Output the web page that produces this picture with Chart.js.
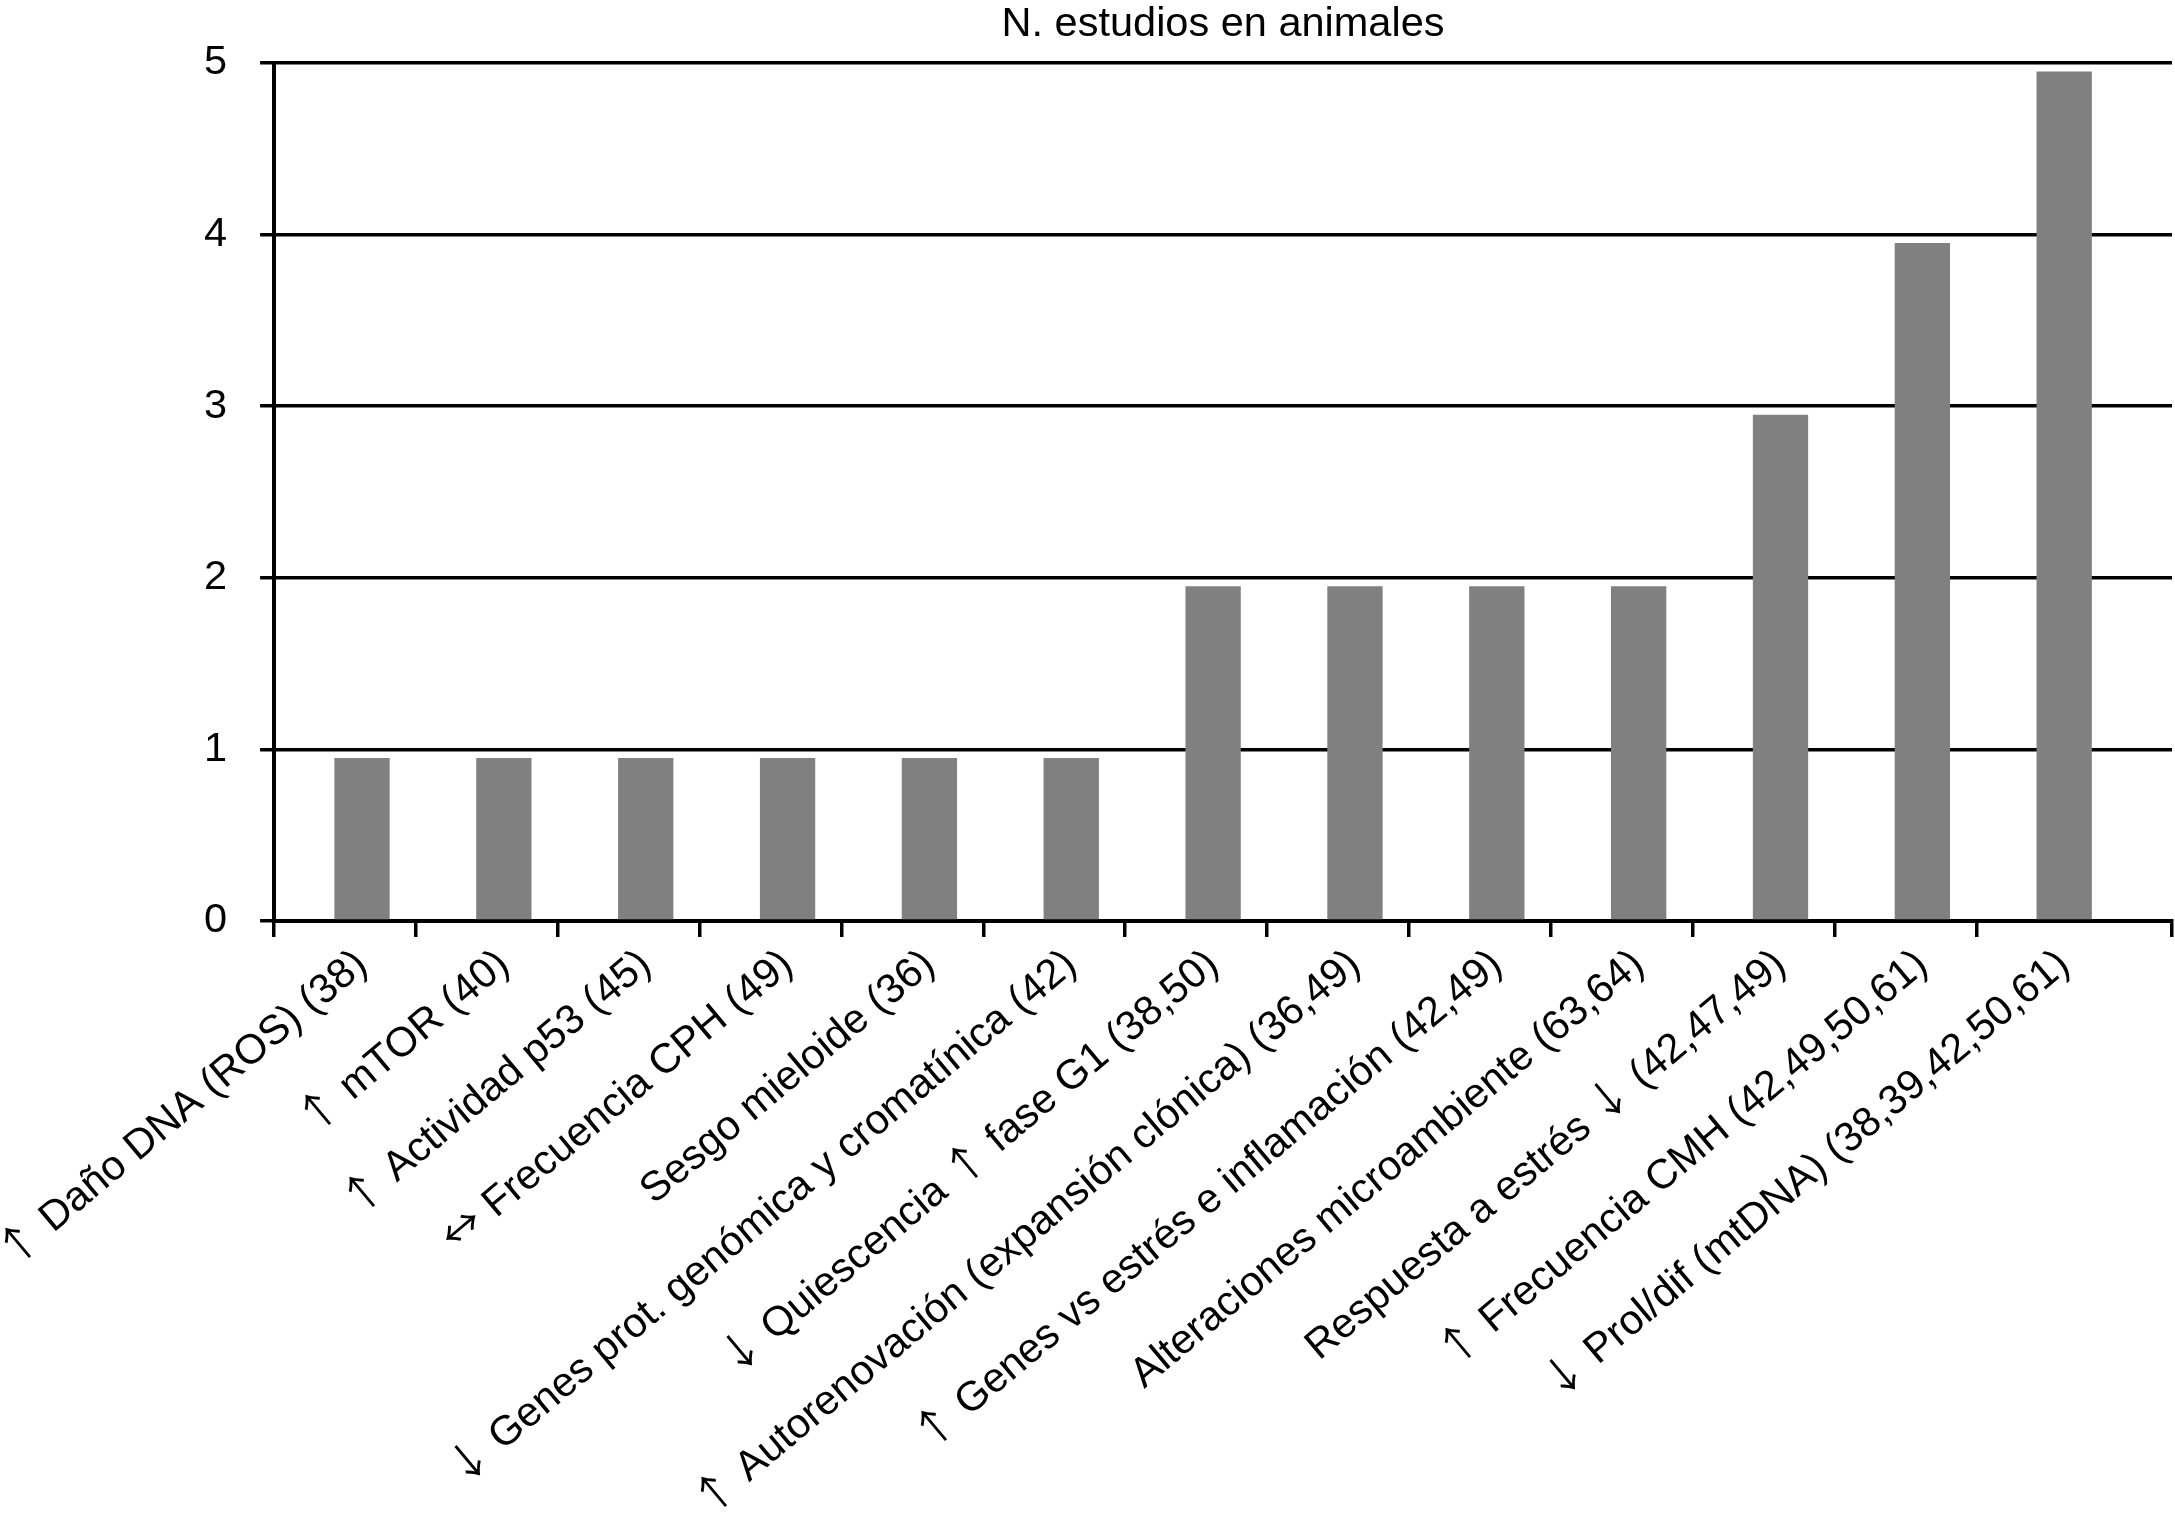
<!DOCTYPE html>
<html>
<head>
<meta charset="utf-8">
<script src="https://cdn.jsdelivr.net/npm/chart.js@4.4.1/dist/chart.umd.min.js"></script>
<style>
  @font-face {
    font-family: 'ArrowCJK';
    src: local('Noto Sans CJK JP'), local('Noto Sans CJK JP Regular'), local('NotoSansCJKjp-Regular'), local('Noto Sans CJK SC'), local('NotoSansCJKsc-Regular');
    unicode-range: U+2190-21FF;
  }
  html, body { margin: 0; padding: 0; background: #fff; }
  #wrap { width: 2175px; height: 1533px; position: relative; }
</style>
</head>
<body>
<div id="wrap"><canvas id="c"></canvas></div>
<script>
// ---- data ----
const chartTitle = "N. estudios en animales";
const categories = [
  "\u2191 Daño DNA (ROS) (38)",
  "\u2191 mTOR (40)",
  "\u2191 Actividad p53 (45)",
  "\u2194 Frecuencia CPH (49)",
  "Sesgo mieloide (36)",
  "\u2193 Genes prot. genómica y cromatínica (42)",
  "\u2193 Quiescencia \u2191 fase G1 (38,50)",
  "\u2191 Autorenovación (expansión clónica) (36,49)",
  "\u2191 Genes vs estrés e inflamación (42,49)",
  "Alteraciones microambiente (63,64)",
  "Respuesta a estrés \u2193 (42,47,49)",
  "\u2191 Frecuencia CMH (42,49,50,61)",
  "\u2193 Prol/dif (mtDNA) (38,39,42,50,61)"
];
const values = [0.95, 0.95, 0.95, 0.95, 0.95, 0.95, 1.95, 1.95, 1.95, 1.95, 2.95, 3.95, 4.95];
const yTicks = [0, 1, 2, 3, 4, 5];

// ---- style / layout constants ----
const FONT = "ArrowCJK, 'Liberation Sans', Arial, Helvetica, sans-serif";
const FONT_SIZE = 41.5;
const BAR_SHIFT = 0.62;      // bar centre within its category slot
const X_AXIS_MAX = 13.38;    // axis runs a little past the last category
const BAR_COLOR = '#808080';
const LABEL_AREA_HEIGHT = 596;

function draw() {
  Chart.defaults.color = '#000';
  Chart.defaults.font.family = FONT;

  const points = values.map((v, i) => ({ x: i + BAR_SHIFT, y: v }));

  new Chart(document.getElementById('c'), {
    type: 'bar',
    data: {
      datasets: [{
        data: points,
        backgroundColor: BAR_COLOR,
        borderWidth: 0,
        categoryPercentage: 1,
        barPercentage: 0.39
      }]
    },
    options: {
      responsive: true,
      maintainAspectRatio: false,
      devicePixelRatio: 1,
      animation: false,
      layout: { padding: { left: 171, right: 3, top: 0, bottom: 0 } },
      plugins: {
        legend: { display: false },
        tooltip: { enabled: false },
        title: {
          display: true,
          text: chartTitle,
          fullSize: false,
          color: '#000',
          font: { size: FONT_SIZE, weight: 'normal', family: FONT },
          padding: { top: 0, bottom: 13 }
        }
      },
      scales: {
        x: {
          type: 'linear',
          position: 'bottom',
          weight: 0,
          min: 0,
          max: X_AXIS_MAX,
          offset: false,
          grid: { display: true, drawOnChartArea: false, drawTicks: true, tickLength: 16, color: '#000', lineWidth: 3.5, offset: false },
          border: { display: true, color: '#000', width: 4 },
          ticks: { display: false },
          afterBuildTicks: (s) => {
            const t = categories.map((c, i) => ({ value: i }));
            t.push({ value: X_AXIS_MAX });
            s.ticks = t;
          }
        },
        xl: {
          type: 'linear',
          position: 'bottom',
          weight: 1,
          min: 0,
          max: X_AXIS_MAX,
          offset: false,
          grid: { display: false, offset: false },
          border: { display: false },
          ticks: {
            autoSkip: false,
            maxRotation: 40,
            minRotation: 40,
            padding: -5,
            color: '#000',
            font: { size: FONT_SIZE, family: FONT },
            callback: (v, i) => categories[i]
          },
          afterBuildTicks: (s) => {
            s.ticks = categories.map((c, i) => ({ value: i + BAR_SHIFT }));
          },
          afterFit: (s) => {
            s.paddingLeft = 0;
            s.paddingRight = 0;
            s.height = LABEL_AREA_HEIGHT;
          }
        },
        y: {
          type: 'linear',
          min: 0,
          max: 5,
          grid: { color: '#000', lineWidth: 3.5, tickLength: 14, drawTicks: true },
          border: { display: true, color: '#000', width: 4 },
          ticks: {
            stepSize: 1,
            padding: 33,
            color: '#000',
            font: { size: FONT_SIZE, family: FONT }
          },
          afterBuildTicks: (s) => { s.ticks = yTicks.map(v => ({ value: v })); }
        }
      }
    }
  });
}

const fontReady = (document.fonts && document.fonts.load)
  ? Promise.all([
      document.fonts.load(FONT_SIZE + "px ArrowCJK", "\u2191\u2193\u2194"),
      document.fonts.load(FONT_SIZE + "px 'Liberation Sans'", "Aa")
    ]).catch(() => null)
  : Promise.resolve();
fontReady.then(draw, draw);
</script>
</body>
</html>
